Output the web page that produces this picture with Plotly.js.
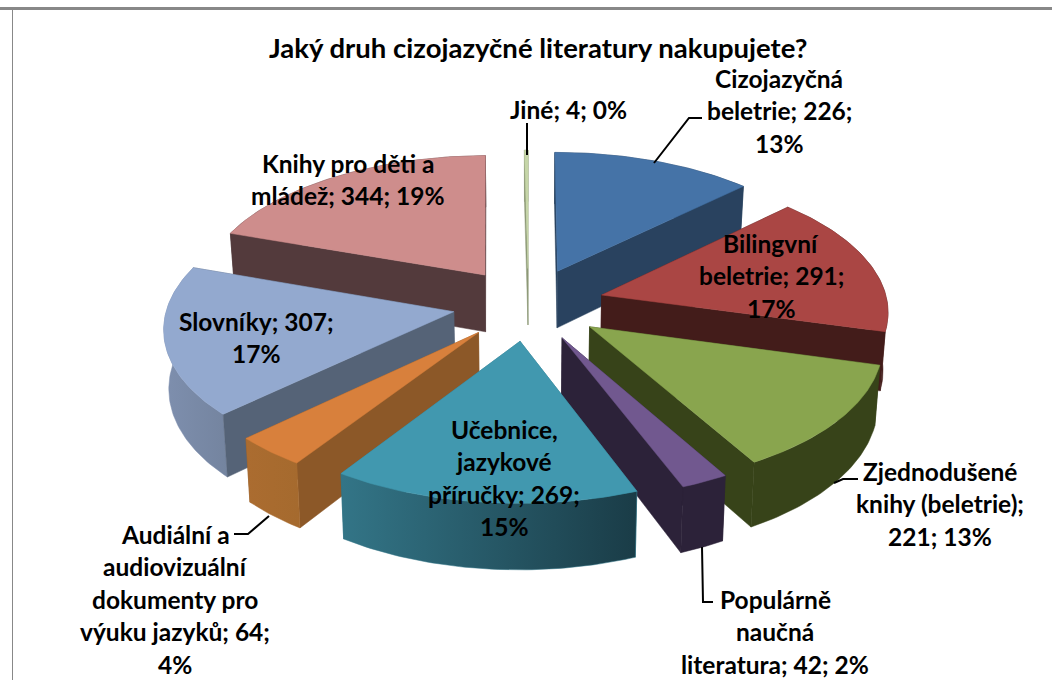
<!DOCTYPE html>
<html>
<head>
<meta charset="utf-8">
<script src="https://cdn.plot.ly/plotly-3.0.1.min.js"></script>
<style>html,body{margin:0;padding:0;background:#fff}#chart{width:1052px;height:680px}</style>
</head>
<body>
<div id="chart"></div>
<script>
var chartTitle = "Jaký druh cizojazyčné literatury nakupujete?";
var categories = ["Cizojazyčná beletrie","Bilingvní beletrie","Zjednodušené knihy (beletrie)","Populárně naučná literatura","Učebnice, jazykové příručky","Audiální a audiovizuální dokumenty pro výuku jazyků","Slovníky","Knihy pro děti a mládež","Jiné"];
var values = [226,291,221,42,269,64,307,344,4];
var percents = [13,17,13,2,15,4,17,19,0];
var topColors = ["#4573a7","#aa4644","#89a54e","#71588f","#4198af","#d8803c","#93a9cf","#ce8d8c","#c6d6a8"];
var cutColors = ["#29425f","#431c1a","#374319","#2c2239","#337587","#8c5828","#556377","#533a3c","#8e9a78"];
var rimStart  = ["#29425f","#431c1a","#374319","#2c2239","#337587","#ab6c30","#7e8fae","#533a3c","#8e9a78"];
var rimEnd    = ["#29425f","#431c1a","#374319","#2c2239","#1a3c47","#a56a2e","#74849f","#533a3c","#8e9a78"];
var labelLines = [
  ["Cizojazyčná","beletrie; 226;","13%"],
  ["Bilingvní","beletrie; 291;","17%"],
  ["Zjednodušené","knihy (beletrie);","221; 13%"],
  ["Populárně","naučná","literatura; 42; 2%"],
  ["Učebnice,","jazykové","příručky; 269;","15%"],
  ["Audiální a","audiovizuální","dokumenty pro","výuku jazyků; 64;","4%"],
  ["Slovníky; 307;","17%"],
  ["Knihy pro děti a","mládež; 344; 19%"],
  ["Jiné; 4; 0%"]
];
var labelCenterX = [779,771,940,775,504,175,256,348,568];
var labelFirstY  = [78,243,471,599,429,534,321,163,109];
var linePitch = 32.5;
var drawOrder = [7,8,0,1,6,2,3,5,4];

// projection of the exploded pie's plane onto the axes
var CX = 528.5, CY = 304, RADIUS = 286, PULL = 76, TILT = 0.48, DIST = 2800, DEPTH = 58, LOWER = 0.986;
function proj(X, Y, low) {
  var s = DIST / (DIST + Y);
  var x = CX + X * s, y = CY - Y * TILT * s;
  if (low) { x = CX + (x - CX) * LOWER; y += DEPTH * s; }
  return [x, y];
}
var total = values.reduce(function (a, b) { return a + b; }, 0);
var traces = [];
var rad = Math.PI / 180, cum = 0, wedges = [];
values.forEach(function (v) { wedges.push([cum, cum + v / total * 360]); cum += v / total * 360; });

function poly(pts, color, name, grad) {
  var t = {
    type: "scatter", mode: "lines", fill: "toself", fillcolor: color, name: name,
    x: pts.map(function (p) { return p[0]; }).concat([pts[0][0]]),
    y: pts.map(function (p) { return p[1]; }).concat([pts[0][1]]),
    line: { width: 0.5, color: color }, hoverinfo: "name", showlegend: false
  };
  if (grad) { t.fillgradient = { type: "horizontal", colorscale: [[0, grad[0]], [1, grad[1]]] }; }
  return t;
}
drawOrder.forEach(function (i) {
  var a0 = wedges[i][0], a1 = wedges[i][1], mid = (a0 + a1) / 2 * rad;
  var ax = PULL * Math.sin(mid), ay = PULL * Math.cos(mid);
  var arc = [], n = Math.max(2, Math.ceil(a1 - a0));
  for (var k = 0; k <= n; k++) {
    var a = (a0 + (a1 - a0) * k / n) * rad;
    arc.push([ax + RADIUS * Math.sin(a), ay + RADIUS * Math.cos(a)]);
  }
  var first = arc[0], last = arc[arc.length - 1];
  function wall(p) {
    return [proj(ax, ay, false), proj(p[0], p[1], false), proj(p[0], p[1], true), proj(ax, ay, true)];
  }
  var walls = [
    { y: (first[1] + ay) / 2, pts: wall(first), c: cutColors[i] },
    { y: (last[1] + ay) / 2, pts: wall(last), c: cutColors[i] }
  ];
  var upper = arc.map(function (p) { return proj(p[0], p[1], false); });
  var lower = arc.map(function (p) { return proj(p[0], p[1], true); }).reverse();
  walls.push({ y: arc.reduce(function (s, p) { return s + p[1]; }, 0) / arc.length, pts: upper.concat(lower), c: rimStart[i], g: [rimStart[i], rimEnd[i]] });
  walls.sort(function (a, b) { return b.y - a.y; });
  walls.forEach(function (w) { traces.push(poly(w.pts, w.c, categories[i], w.g)); });
  traces.push(poly([proj(ax, ay, false)].concat(upper), topColors[i], categories[i] + ": " + values[i] + " (" + percents[i] + " %)"));
});

var annotations = [{
  text: "<b>" + chartTitle + "</b>", x: 538, y: 47, xref: "x", yref: "y", showarrow: false,
  xanchor: "center", yanchor: "middle", font: { family: "Lato, sans-serif", size: 27.5, color: "#000" }
}];
labelLines.forEach(function (lines, i) {
  lines.forEach(function (line, j) {
    annotations.push({
      text: "<b>" + line + "</b>", x: labelCenterX[i], y: labelFirstY[i] + j * linePitch,
      xref: "x", yref: "y", showarrow: false, xanchor: "center", yanchor: "middle",
      font: { family: "Lato, sans-serif", size: 24.5, color: "#000" }
    });
  });
});

function leader(path, w) { return { type: "path", xref: "x", yref: "y", path: path, line: { color: "#000", width: w || 2 } }; }
var shapes = [
  { type: "line", xref: "x", yref: "y", x0: 0, x1: 1052, y0: 8.5, y1: 8.5, line: { color: "#888", width: 3 } },
  { type: "line", xref: "x", yref: "y", x0: 12.5, x1: 12.5, y0: 8, y1: 680, line: { color: "#888", width: 1 } },
  leader("M654,163 L689,118 L702,118"),
  leader("M527,123 L527,155"),
  leader("M834,483 L843,479 L858,479"),
  leader("M702,547 L703,602 L713,602"),
  leader("M269,516 L248,534 L234,534")
];

Plotly.newPlot("chart", traces, {
  width: 1052, height: 680, margin: { l: 0, r: 0, t: 0, b: 0 },
  paper_bgcolor: "#fff", plot_bgcolor: "#fff", showlegend: false,
  xaxis: { range: [0, 1052], visible: false, fixedrange: true },
  yaxis: { range: [680, 0], visible: false, fixedrange: true },
  annotations: annotations, shapes: shapes
}, { displayModeBar: false, staticPlot: true });
</script>
</body>
</html>
